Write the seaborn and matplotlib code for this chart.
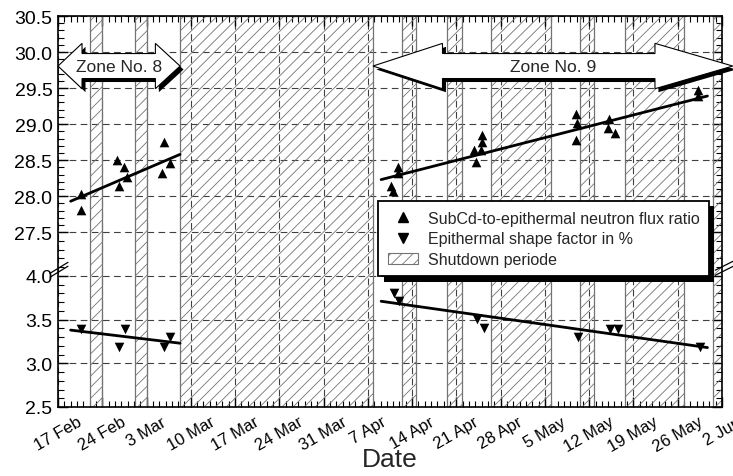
import numpy as np
import pandas as pd
import matplotlib
matplotlib.use("Agg")
import matplotlib.pyplot as plt
import matplotlib.dates as mdates
import matplotlib.patches as mpatches
import matplotlib.patheffects as pe
import matplotlib.transforms as mtransforms
from matplotlib.lines import Line2D
from matplotlib.ticker import FixedLocator
import seaborn as sns

# ---------------- data ----------------
start_date = "1997-02-17"
tick_labels = ["17 Feb", "24 Feb", "3 Mar", "10 Mar", "17 Mar", "24 Mar", "31 Mar",
               "7 Apr", "14 Apr", "21 Apr", "28 Apr", "5 May", "12 May", "19 May",
               "26 May", "2 Jun"]
y_tick_values = [2.5, 3.0, 3.5, 4.0, 27.5, 28.0, 28.5, 29.0, 29.5, 30.0, 30.5]

# days after 17 Feb
ratio_day = [3.6, 3.6, 9.4, 10.4, 10.9, 9.7, 16.8, 17.7, 16.5,
             53.8, 53.7, 52.7, 53.0, 67.1, 67.0, 65.8, 66.9, 66.1,
             81.9, 82.0, 81.9, 87.1, 86.9, 88.1, 101.2, 101.2]
ratio_val = [28.03, 27.81, 28.50, 28.41, 28.27, 28.14, 28.75, 28.46, 28.32,
             28.41, 28.32, 28.14, 28.07, 28.85, 28.75, 28.64, 28.64, 28.48,
             29.14, 29.02, 28.78, 29.07, 28.94, 28.88, 29.48, 29.39]
shape_day = [3.6, 10.6, 9.6, 17.7, 16.8, 53.1, 54.0, 66.2, 67.3, 82.3, 87.3, 88.5, 101.6]
shape_val = [3.39, 3.39, 3.19, 3.30, 3.19, 3.81, 3.71, 3.51, 3.40, 3.30, 3.39, 3.39, 3.19]

fit_day_zone8 = [2.0, 19.3]
fit_ratio_zone8 = [27.93, 28.58]
fit_shape_zone8 = [3.38, 3.23]
fit_day_zone9 = [51.1, 102.7]
fit_ratio_zone9 = [28.23, 29.39]
fit_shape_zone9 = [3.71, 3.18]

shutdown_start = [5.1, 12.2, 19.3, 54.4, 61.5, 68.5, 82.5, 89.7, 103.6]
shutdown_end = [7.0, 14.1, 49.8, 56.6, 63.9, 78.0, 84.8, 99.0, 105.0]

zone_names = ["Zone No. 8", "Zone No. 9"]
zone_start = [0.0, 49.8]
zone_end = [19.3, 106.7]
zone_head_left = [3.8, 11.0]
zone_head_right = [3.9, 12.3]

legend_labels = ["SubCd-to-epithermal neutron flux ratio",
                 "Epithermal shape factor in %",
                 "Shutdown periode"]

# ---------------- helpers ----------------
base = pd.Timestamp(start_date)


def to_date(days):
    return base + pd.to_timedelta(np.asarray(days, dtype=float), unit="D")


LO_K, HI_K = 87.3, 72.0
GAP_TOP = (4.5 - 2.5) * LO_K


def fwd(v):
    v = np.asarray(v, dtype=float)
    return np.where(v >= 15, GAP_TOP + (v - 27.5) * HI_K, (v - 2.5) * LO_K)


def inv(u):
    u = np.asarray(u, dtype=float)
    return np.where(u >= GAP_TOP, 27.5 + (u - GAP_TOP) / HI_K, 2.5 + u / LO_K)


# ---------------- style ----------------
sns.set_style("ticks")
plt.rcParams["font.family"] = ["Liberation Sans", "DejaVu Sans"]
plt.rcParams["hatch.linewidth"] = 0.6
plt.rcParams["hatch.color"] = "0.35"

fig = plt.figure(figsize=(7.33, 4.77), dpi=100)
ax = fig.add_axes([58 / 733, 69 / 477, 664 / 733, 391 / 477])
ax.set_yscale("function", functions=(fwd, inv))
ax.set_ylim(2.5, 30.5)
ax.set_xlim(to_date(0), to_date(105))

# shutdown periods
for s, e in zip(shutdown_start, shutdown_end):
    ax.axvspan(to_date(s), to_date(e), facecolor="none", edgecolor="0.45",
               hatch="///", lw=0.9, zorder=1)

# data points
ratio_df = pd.DataFrame({"date": to_date(ratio_day), "value": ratio_val})
shape_df = pd.DataFrame({"date": to_date(shape_day), "value": shape_val})
sns.scatterplot(data=ratio_df, x="date", y="value", marker="^", color="k",
                s=48, linewidth=0, ax=ax, zorder=6)
sns.scatterplot(data=shape_df, x="date", y="value", marker="v", color="k",
                s=48, linewidth=0, ax=ax, zorder=6)

# fit lines
for days, vals in [(fit_day_zone8, fit_ratio_zone8), (fit_day_zone8, fit_shape_zone8),
                   (fit_day_zone9, fit_ratio_zone9), (fit_day_zone9, fit_shape_zone9)]:
    sns.lineplot(x=to_date(days), y=vals, color="k", lw=2.0, ax=ax, zorder=7)

# ticks
ax.set_yticks(y_tick_values)
ax.set_yticklabels([f"{v:.1f}" for v in y_tick_values])
minor_y = list(np.round(np.arange(2.5, 4.45, 0.1), 2)) + list(np.round(np.arange(27.5, 30.55, 0.1), 2))
ax.yaxis.set_minor_locator(FixedLocator(minor_y))
ax.set_xticks(pd.date_range(base, periods=len(tick_labels), freq="7D"))
ax.set_xticklabels(tick_labels, rotation=30, ha="center")
ax.xaxis.set_minor_locator(mdates.DayLocator())
ax.tick_params(which="both", direction="in", top=True, right=True, colors="k")
ax.tick_params(which="major", length=7, width=1.0)
ax.tick_params(which="minor", length=4, width=0.8)
ax.tick_params(axis="y", labelsize=14, pad=4)
ax.tick_params(axis="x", labelsize=12, pad=5)
ax.set_xlabel("Date", fontsize=19)
ax.xaxis.set_label_coords(0.5, -0.103)
ax.set_ylabel("")

ax.grid(True, which="major", color="0.25", lw=0.8, ls=(0, (6, 4)))
for sp in ax.spines.values():
    sp.set_linewidth(1.2)
    sp.set_color("k")
    sp.set_zorder(8)

# axis break marks
for x0, x1, y0, y1 in [(-0.012, 0.015, 0.332, 0.360), (-0.012, 0.015, 0.342, 0.370),
                       (0.990, 1.017, 0.350, 0.373), (0.990, 1.017, 0.337, 0.360)]:
    ax.plot([x0, x1], [y0, y1], transform=ax.transAxes, color="k", lw=0.9,
            clip_on=False, zorder=9)

# zone arrows
blend = mtransforms.blended_transform_factory(ax.transData, ax.transAxes)
yc, hh, bh = 0.872, 0.058, 0.032
for name, s, e, hl, hr in zip(zone_names, zone_start, zone_end, zone_head_left, zone_head_right):
    xs = mdates.date2num(to_date([s, s + hl, e - hr, e]))
    verts = [(xs[0], yc), (xs[1], yc + hh), (xs[1], yc + bh), (xs[2], yc + bh),
             (xs[2], yc + hh), (xs[3], yc), (xs[2], yc - hh), (xs[2], yc - bh),
             (xs[1], yc - bh), (xs[1], yc - hh)]
    poly = mpatches.Polygon(verts, closed=True, transform=blend, facecolor="white",
                            edgecolor="k", lw=0.8, clip_on=False, zorder=11)
    poly.set_path_effects([pe.SimplePatchShadow(offset=(2.5, -2.5), shadow_rgbFace="k", alpha=1),
                           pe.Normal()])
    ax.add_patch(poly)
    xm = mdates.date2num(to_date((s + e) / 2))
    ax.text(xm, yc, name, transform=blend, ha="center", va="center",
            fontsize=12.5, zorder=12)

# legend
handles = [Line2D([], [], marker="^", ls="none", color="k", ms=7.5),
           Line2D([], [], marker="v", ls="none", color="k", ms=7.5),
           mpatches.Patch(facecolor="white", edgecolor="0.45", hatch="///", lw=0.8)]
leg = ax.legend(handles, legend_labels, loc="upper left", bbox_to_anchor=(0.482, 0.527),
                borderaxespad=0, frameon=True, fancybox=False, framealpha=1,
                edgecolor="k", fontsize=11.5, handlelength=1.9, handletextpad=0.6,
                labelspacing=0.35, borderpad=0.6)
leg.get_frame().set_linewidth(1.3)
leg.get_frame().set_path_effects([pe.SimplePatchShadow(offset=(4, -4), shadow_rgbFace="k", alpha=1),
                                  pe.Normal()])
leg.set_zorder(13)

fig.savefig("out.png", dpi=100)
